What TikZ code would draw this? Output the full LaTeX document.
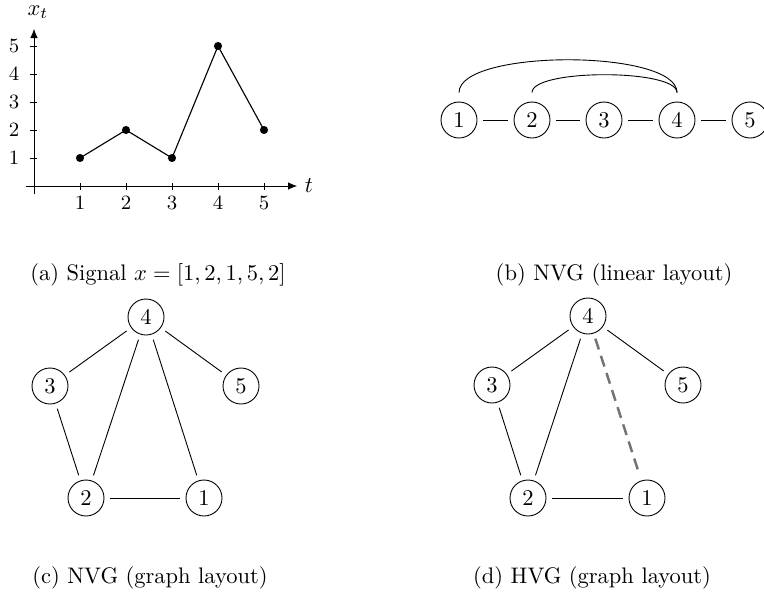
\documentclass[tikz,border=0pt]{standalone}
\usetikzlibrary{arrows.meta}
\begin{document}
\begin{tikzpicture}[x=0.4444pt,y=-0.4444pt,
  vtx/.style={circle,draw,line width=0.4pt,minimum size=16pt,inner sep=0pt,font=\normalsize},
  edg/.style={line width=0.4pt,shorten >=2.4pt,shorten <=2.4pt},
  arcedg/.style={line width=0.4pt,shorten >=4pt,shorten <=4pt},
  hvg/.style={edg,draw=black!55,line width=1.1pt,dash pattern=on 5pt off 3pt},
  axisline/.style={line width=0.4pt,-{Latex[length=4pt,width=3.4pt]}},
  tlab/.style={font=\small,inner sep=1pt},
  sigdot/.style={circle,fill,inner sep=0pt,minimum size=3.6pt},
  captxt/.style={font=\normalsize,inner sep=0pt}]
\useasboundingbox (0,0) rectangle (764,603);
% ---------- (a) signal ----------
\coordinate (xs) at (26,186);
\coordinate (xe) at (297,186);
\coordinate (ys) at (34,194);
\coordinate (ye) at (34,29);
\draw[axisline] (xs) -- (xe);
\draw[axisline] (ys) -- (ye);
\node[tlab,font=\normalsize] (tl) at (309,186) {$t$};
\node[tlab,font=\normalsize] (xl) at (38,12) {$x_t$};
\foreach \i in {1,...,5}{
  \draw[line width=0.4pt] ({34+46*\i},183) -- ({34+46*\i},190);
  \node[tlab] (xt\i) at ({34+46*\i},203) {$\i$};
  \draw[line width=0.4pt] (30,{186-28*\i}) -- (37,{186-28*\i});
  \node[tlab] (yt\i) at (14,{186-28*\i}) {$\i$};
}
\node[sigdot] (p1) at (80,158) {};
\node[sigdot] (p2) at (126,130) {};
\node[sigdot] (p3) at (172,158) {};
\node[sigdot] (p4) at (218,46) {};
\node[sigdot] (p5) at (264,130) {};
\draw[line width=0.5pt] (p1.center) -- (p2.center) -- (p3.center) -- (p4.center) -- (p5.center);
\node[captxt] (capa) at (158,275) {(a) Signal $x=[1,2,1,5,2]$};
% ---------- (b) NVG linear ----------
\node[vtx] (b1) at (459,120) {1};
\node[vtx] (b2) at (532,120) {2};
\node[vtx] (b3) at (604,120) {3};
\node[vtx] (b4) at (677,120) {4};
\node[vtx] (b5) at (750,120) {5};
\draw[edg] (b1) -- (b2);
\draw[edg] (b2) -- (b3);
\draw[edg] (b3) -- (b4);
\draw[edg] (b4) -- (b5);
\draw[arcedg] (b1) to[out=90,in=90,looseness=0.62] (b4);
\draw[arcedg] (b2) to[out=90,in=90,looseness=0.58] (b4);
\node[captxt] (capb) at (614,275) {(b) NVG (linear layout)};
% ---------- (c) NVG graph ----------
\node[vtx] (c4) at (146,317) {4};
\node[vtx] (c3) at (50,386) {3};
\node[vtx] (c5) at (241,386) {5};
\node[vtx] (c2) at (86,498) {2};
\node[vtx] (c1) at (204,498) {1};
\draw[edg] (c4) -- (c3);
\draw[edg] (c4) -- (c2);
\draw[edg] (c4) -- (c1);
\draw[edg] (c4) -- (c5);
\draw[edg] (c3) -- (c2);
\draw[edg] (c2) -- (c1);
\node[captxt] (capc) at (150,578) {(c) NVG (graph layout)};
% ---------- (d) HVG graph ----------
\node[vtx] (d4) at (588,316) {4};
\node[vtx] (d3) at (492,385) {3};
\node[vtx] (d5) at (683,385) {5};
\node[vtx] (d2) at (528,498) {2};
\node[vtx] (d1) at (647,498) {1};
\draw[edg] (d4) -- (d3);
\draw[edg] (d4) -- (d2);
\draw[edg] (d4) -- (d5);
\draw[edg] (d3) -- (d2);
\draw[edg] (d2) -- (d1);
\draw[hvg] (d4) -- (d1);
\node[captxt] (capd) at (592,578) {(d) HVG (graph layout)};
\end{tikzpicture}
\end{document}
